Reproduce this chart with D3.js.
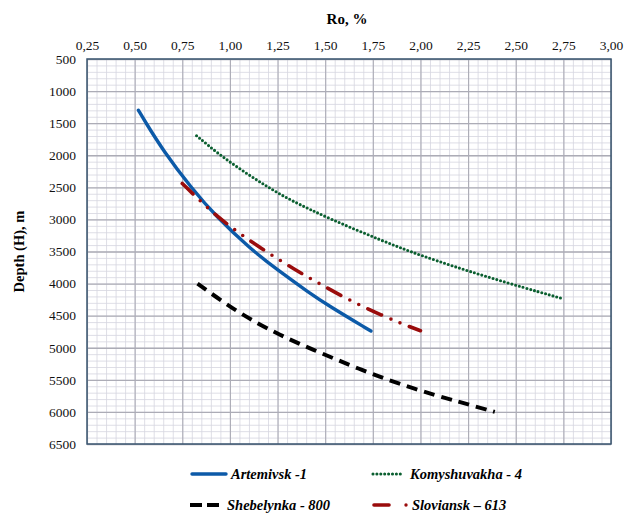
<!DOCTYPE html>
<html>
<head>
<meta charset="utf-8">
<script src="https://cdn.jsdelivr.net/npm/d3@7"></script>
<style>
  body { margin: 0; background: white; }
  svg { display: block; }
</style>
</head>
<body>
<svg></svg>
<script>
// tick values
let xTicks = [0.25, 0.50, 0.75, 1.00, 1.25, 1.50, 1.75, 2.00, 2.25, 2.50, 2.75, 3.00];
let yTicks = [500, 1000, 1500, 2000, 2500, 3000, 3500, 4000, 4500, 5000, 5500, 6000, 6500];

// wells (Ro, %  /  depth, m)
let artemivskRo    = [0.52, 0.55, 0.65, 0.80, 0.93, 1.10, 1.25, 1.42, 1.51, 1.74];
let artemivskDepth = [1300, 1450, 1930, 2520, 2960, 3440, 3790, 4150, 4330, 4740];

let komyshRo    = [0.825, 0.94, 1.06, 1.19, 1.31, 1.53, 1.79, 1.99, 2.35, 2.74];
let komyshDepth = [1695, 1980, 2230, 2480, 2690, 3000, 3320, 3555, 3900, 4230];

let shebelRo    = [0.83, 1.04, 1.245, 1.42, 1.69, 1.96, 2.21, 2.39];
let shebelDepth = [4000, 4450, 4780, 5010, 5350, 5640, 5850, 6000];

let slovRo    = [0.75, 0.85, 0.95, 1.14, 1.35, 1.47, 1.62, 1.80, 1.94, 2.00];
let slovDepth = [2440, 2730, 3000, 3410, 3800, 4000, 4250, 4500, 4670, 4735];

let width = 636;
let height = 513;

let plot = { left: 87, right: 611, top: 59, bottom: 444 };

let font = "'Liberation Serif', 'Times New Roman', serif";

let svg = d3.select("svg")
            .attr("width", width)
            .attr("height", height)
            .style("background-color", "white");

let scaleX = d3.scaleLinear().domain([0.25, 3]).range([plot.left, plot.right]);
let scaleY = d3.scaleLinear().domain([500, 6500]).range([plot.top, plot.bottom]);

// minor grid
let minorX = d3.range(0.25, 3.0001, 0.05);
let minorY = d3.range(500, 6501, 100);

svg.append("g")
   .attr("transform", `translate(0, ${plot.bottom})`)
   .call(d3.axisBottom(scaleX).tickValues(minorX).tickSize(-(plot.bottom - plot.top)).tickFormat(""))
   .call(g => g.select(".domain").remove())
   .selectAll("line").attr("stroke", "#d5d5df").attr("stroke-width", 0.8);

svg.append("g")
   .attr("transform", `translate(${plot.left}, 0)`)
   .call(d3.axisLeft(scaleY).tickValues(minorY).tickSize(-(plot.right - plot.left)).tickFormat(""))
   .call(g => g.select(".domain").remove())
   .selectAll("line").attr("stroke", "#d5d5df").attr("stroke-width", 0.8);

// major grid
svg.append("g")
   .attr("transform", `translate(0, ${plot.bottom})`)
   .call(d3.axisBottom(scaleX).tickValues(xTicks).tickSize(-(plot.bottom - plot.top)).tickFormat(""))
   .call(g => g.select(".domain").remove())
   .selectAll("line").attr("stroke", "#acacb6").attr("stroke-width", 1.1);

svg.append("g")
   .attr("transform", `translate(${plot.left}, 0)`)
   .call(d3.axisLeft(scaleY).tickValues(yTicks).tickSize(-(plot.right - plot.left)).tickFormat(""))
   .call(g => g.select(".domain").remove())
   .selectAll("line").attr("stroke", "#acacb6").attr("stroke-width", 1.3);

// frame
svg.append("rect")
   .attr("x", plot.left)
   .attr("y", plot.top)
   .attr("width", plot.right - plot.left)
   .attr("height", plot.bottom - plot.top)
   .attr("fill", "none")
   .attr("stroke", "#3a5670")
   .attr("stroke-width", 1.5);

// axes labels
let xAxis = d3.axisTop(scaleX)
              .tickValues(xTicks)
              .tickSize(0)
              .tickPadding(9)
              .tickFormat(d => d3.format(".2f")(d).replace(".", ","));

svg.append("g")
   .attr("transform", `translate(0, ${plot.top})`)
   .call(xAxis)
   .call(g => g.select(".domain").remove())
   .selectAll("text")
   .style("font-family", font)
   .style("font-size", "13.5px")
   .attr("fill", "#111");

let yAxis = d3.axisLeft(scaleY)
              .tickValues(yTicks)
              .tickSize(0)
              .tickPadding(11)
              .tickFormat(d3.format("d"));

svg.append("g")
   .attr("transform", `translate(${plot.left}, 0)`)
   .call(yAxis)
   .call(g => g.select(".domain").remove())
   .selectAll("text")
   .style("font-family", font)
   .style("font-size", "13.5px")
   .attr("fill", "#111");

svg.append("text")
   .attr("x", 347)
   .attr("y", 24)
   .attr("text-anchor", "middle")
   .style("font-family", font)
   .style("font-size", "15px")
   .style("font-weight", "bold")
   .text("Ro, %");

svg.append("text")
   .attr("transform", `translate(24, ${(plot.top + plot.bottom) / 2}) rotate(-90)`)
   .attr("text-anchor", "middle")
   .style("font-family", font)
   .style("font-size", "14.5px")
   .style("font-weight", "bold")
   .text("Depth (H), m");

// series
let series = [
    { name: "Artemivsk -1", ro: artemivskRo, depth: artemivskDepth, color: "#0c5aa8", width: 3.4, dash: null, cap: "round" },
    { name: "Komyshuvakha - 4", ro: komyshRo, depth: komyshDepth, color: "#0b5f30", width: 3.1, dash: "0 3.9", cap: "round" },
    { name: "Shebelynka - 800", ro: shebelRo, depth: shebelDepth, color: "#000000", width: 4, dash: "11 7", cap: "butt" },
    { name: "Sloviansk \u2013 613", ro: slovRo, depth: slovDepth, color: "#9a0c0c", width: 3.6, dash: "15 10 0 10 0 10", cap: "round" }
];

let line = d3.line()
             .x(d => scaleX(d[0]))
             .y(d => scaleY(d[1]))
             .curve(d3.curveBasis);

series.forEach(s => {
    let pts = s.ro.map((r, i) => [r, s.depth[i]]);
    svg.append("path")
       .datum(pts)
       .attr("d", line)
       .attr("fill", "none")
       .attr("stroke", s.color)
       .attr("stroke-width", s.width)
       .attr("stroke-linecap", s.cap)
       .attr("stroke-dasharray", s.dash);
});

// legend
let legendPos = [
    { x1: 192, x2: 226, tx: 231, y: 474 },
    { x1: 373, x2: 403, tx: 410, y: 474 },
    { x1: 190, x2: 223, tx: 227, y: 505 },
    { x1: 374, x2: 398, tx: 412, y: 505 }
];

series.forEach((s, i) => {
    let p = legendPos[i];
    svg.append("line")
       .attr("x1", p.x1).attr("x2", p.x2)
       .attr("y1", p.y).attr("y2", p.y)
       .attr("stroke", s.color)
       .attr("stroke-width", s.width)
       .attr("stroke-linecap", s.cap)
       .attr("stroke-dasharray", i === 2 ? "12 5" : s.dash);
    if (i === 3) {
        svg.append("circle")
           .attr("cx", 406).attr("cy", p.y)
           .attr("r", 1.7)
           .attr("fill", s.color);
    }
    svg.append("text")
       .attr("x", p.tx)
       .attr("y", p.y + 5)
       .style("font-family", font)
       .style("font-size", "14.5px")
       .style("font-weight", "bold")
       .style("font-style", "italic")
       .text(s.name);
});
</script>
</body>
</html>
